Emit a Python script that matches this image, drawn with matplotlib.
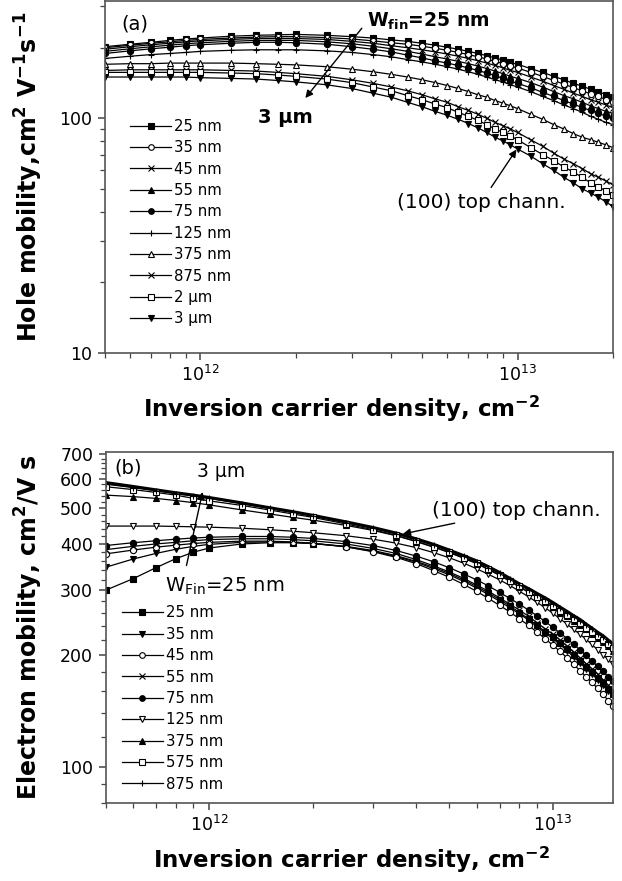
import matplotlib
matplotlib.use('Agg')
import matplotlib.pyplot as plt
from matplotlib.ticker import LogLocator, FixedLocator, NullFormatter, FixedFormatter

plt.rcParams['font.family'] = ['DejaVu Sans']
plt.rcParams['mathtext.default'] = 'regular'

# ---- panel (a): hole mobility vs inversion density ----
xa = [5e11, 6e11, 7e11, 8e11, 9e11, 1e12, 1.25e12, 1.5e12, 1.75e12, 2e12, 2.5e12, 3e12, 3.5e12,
      4e12, 4.5e12, 5e12, 5.5e12, 6e12, 6.5e12, 7e12, 7.5e12, 8e12, 8.5e12, 9e12, 9.5e12,
      1e13, 1.1e13, 1.2e13, 1.3e13, 1.4e13, 1.5e13, 1.6e13, 1.7e13, 1.8e13, 1.9e13, 2e13]
hole_25 = [202, 207, 211, 215, 218, 220, 224, 226, 227, 228, 226, 223, 220,
           216, 213, 209, 205, 201, 197, 193, 189, 185, 181, 177, 173, 170, 163, 157, 151, 146, 141, 137, 133, 130, 126, 123]
hole_35 = [200, 205, 209, 212, 215, 217, 220, 222, 223, 223, 221, 218, 214,
           210, 207, 203, 199, 195, 191, 187, 183, 179, 175, 171, 167, 164, 157, 151, 145, 140, 135, 131, 127, 124, 120, 117]
hole_45 = [197, 202, 206, 209, 212, 214, 217, 219, 219, 219, 217, 213, 209,
           204, 200, 196, 192, 188, 184, 180, 176, 172, 168, 164, 160, 157, 150, 144, 138, 133, 128, 124, 120, 117, 114, 111]
hole_55 = [193, 198, 202, 205, 208, 210, 213, 215, 215, 215, 212, 208, 203,
           198, 193, 188, 183, 179, 175, 171, 167, 163, 159, 155, 151, 148, 142, 136, 130, 125, 121, 117, 113, 110, 107, 105]
hole_75 = [189, 194, 198, 201, 204, 206, 209, 211, 211, 210, 207, 202, 197,
           192, 186, 181, 176, 172, 168, 164, 160, 156, 152, 148, 144, 141, 135, 129, 124, 119, 115, 111, 108, 105, 102, 100]
hole_125 = [180, 184, 187, 189, 191, 193, 195, 196, 196, 196, 194, 191, 187,
            183, 178, 174, 170, 166, 162, 158, 154, 150, 146, 143, 139, 136, 130, 124, 119, 114, 110, 106, 102, 99, 96, 94]
hole_375 = [170, 171, 171, 172, 172, 172, 172, 171, 170, 169, 166, 162, 158,
            154, 150, 146, 142, 138, 134, 130, 126, 123, 119, 116, 113, 110, 104, 99, 94, 90, 86, 83, 81, 79, 77, 75]
hole_875 = [160, 161, 161, 161, 161, 161, 160, 159, 157, 155, 151, 146, 141,
            136, 131, 126, 121, 117, 112, 108, 104, 100, 96, 93, 90, 87, 81, 76, 71, 67, 64, 61, 58, 56, 54, 52]
hole_2u = [157, 157, 157, 157, 157, 157, 156, 155, 153, 151, 147, 142, 136,
           131, 125, 120, 115, 111, 106, 102, 98, 94, 90, 87, 84, 81, 75, 70, 66, 62, 59, 56, 53, 51, 49, 47]
hole_3u = [150, 150, 150, 150, 150, 149, 148, 147, 145, 143, 139, 134, 128,
           123, 117, 112, 107, 103, 99, 95, 91, 87, 83, 80, 77, 74, 69, 64, 60, 56, 53, 50, 48, 46, 44, 42]

labels_a = ['25 nm', '35 nm', '45 nm', '55 nm', '75 nm', '125 nm', '375 nm', '875 nm', '2 µm', '3 µm']
series_a = [hole_25, hole_35, hole_45, hole_55, hole_75, hole_125, hole_375, hole_875, hole_2u, hole_3u]
markers_a = ['s', 'o', 'x', '^', 'o', '+', '^', 'x', 's', 'v']
filled_a = [True, False, True, True, True, True, False, True, False, True]

# ---- panel (b): electron mobility vs inversion density ----
xb = [5e11, 6e11, 7e11, 8e11, 9e11, 1e12, 1.25e12, 1.5e12, 1.75e12, 2e12, 2.5e12, 3e12, 3.5e12,
      4e12, 4.5e12, 5e12, 5.5e12, 6e12, 6.5e12, 7e12, 7.5e12, 8e12, 8.5e12, 9e12, 9.5e12, 1e13,
      1.05e13, 1.1e13, 1.15e13, 1.2e13, 1.25e13, 1.3e13, 1.35e13, 1.4e13, 1.45e13, 1.5e13]
elec_top = [586, 572, 560, 550, 542, 534, 516, 501, 489, 478, 459, 443, 428,
            413, 399, 385, 372, 360, 347, 335, 323, 312, 303, 294, 286, 278, 270, 263, 256, 250, 243, 237, 231, 226, 220, 215]
elec_25 = [300, 322, 345, 365, 380, 390, 400, 403, 403, 401, 394, 384, 372,
           359, 346, 333, 320, 307, 295, 283, 272, 261, 251, 241, 232, 224, 216, 208, 200, 193, 186, 180, 174, 168, 162, 157]
elec_35 = [346, 364, 377, 387, 394, 399, 404, 405, 404, 401, 393, 382, 370,
           357, 343, 330, 317, 304, 292, 280, 269, 259, 249, 239, 230, 222, 214, 206, 198, 191, 184, 178, 172, 166, 160, 155]
elec_45 = [376, 385, 392, 397, 401, 404, 407, 407, 405, 402, 393, 381, 368,
           354, 339, 325, 311, 298, 285, 273, 262, 251, 241, 231, 222, 213, 205, 197, 189, 182, 175, 169, 163, 157, 151, 146]
elec_55 = [386, 394, 400, 404, 408, 411, 413, 413, 411, 408, 400, 389, 377,
           363, 349, 336, 323, 310, 298, 286, 275, 265, 255, 245, 236, 228, 220, 212, 204, 197, 190, 184, 178, 172, 166, 161]
elec_75 = [396, 403, 408, 412, 415, 417, 419, 419, 417, 414, 406, 396, 384,
           371, 358, 345, 332, 320, 308, 296, 285, 275, 265, 256, 247, 238, 230, 222, 214, 207, 200, 193, 187, 181, 175, 170]
elec_125 = [447, 447, 447, 446, 445, 444, 441, 437, 433, 429, 421, 412, 402,
            391, 379, 367, 355, 343, 331, 320, 309, 298, 288, 278, 269, 260, 251, 243, 235, 228, 221, 214, 207, 201, 195, 189]
elec_375 = [542, 537, 531, 524, 517, 510, 494, 482, 472, 464, 449, 435, 421,
            406, 392, 379, 366, 354, 341, 329, 317, 306, 296, 287, 278, 270, 262, 255, 248, 242, 235, 229, 223, 218, 212, 206]
elec_575 = [571, 561, 551, 542, 531, 523, 508, 494, 482, 472, 453, 437, 422,
            407, 393, 380, 367, 355, 342, 330, 318, 307, 297, 288, 280, 272, 264, 257, 250, 244, 237, 231, 225, 220, 214, 209]
elec_875 = [580, 568, 557, 547, 539, 531, 514, 499, 487, 476, 457, 441, 426,
            411, 397, 383, 370, 358, 345, 333, 321, 310, 301, 292, 284, 276, 268, 261, 254, 248, 241, 235, 229, 224, 218, 213]

labels_b = ['25 nm', '35 nm', '45 nm', '55 nm', '75 nm', '125 nm', '375 nm', '575 nm', '875 nm']
series_b = [elec_25, elec_35, elec_45, elec_55, elec_75, elec_125, elec_375, elec_575, elec_875]
markers_b = ['s', 'v', 'o', 'x', 'o', 'v', '^', 's', '+']
filled_b = [True, True, False, True, True, False, True, False, True]

fig = plt.figure(figsize=(6.22, 8.81), dpi=100)
ax1 = fig.add_axes([0.1688, 0.5997, 0.8167, 0.3986])
ax2 = fig.add_axes([0.1699, 0.0889, 0.8161, 0.3984])

arrow = dict(arrowstyle='-|>', lw=1, color='black', mutation_scale=11)


def draw(ax, x, series, labels, markers, filled):
    for y, lab, m, f in zip(series, labels, markers, filled):
        ax.plot(x, y, color='black', lw=0.9, marker=m, ms=4.5,
                mfc='black' if f else 'white', mec='black', mew=0.8, label=lab)


def style(ax):
    ax.set_xscale('log')
    ax.set_yscale('log')
    for sp in ax.spines.values():
        sp.set_color('#555555')
        sp.set_linewidth(1.2)
    ax.tick_params(which='both', direction='out', top=False, right=False, color='#444444')
    ax.tick_params(which='major', length=5, width=1.1, labelsize=12.5, pad=4)
    ax.tick_params(which='minor', length=3.5, width=0.9)
    ax.xaxis.set_major_locator(LogLocator(base=10))
    ax.xaxis.set_minor_locator(LogLocator(base=10, subs=range(2, 10)))
    ax.xaxis.set_minor_formatter(NullFormatter())
    ax.set_xlabel('Inversion carrier density, cm$^{-2}$', fontsize=16.5, fontweight='bold', va='top')


def legend(ax, x0, y0):
    ax.legend(loc='upper left', bbox_to_anchor=(x0, y0), frameon=False, fontsize=10.7,
              handlelength=2.8, handletextpad=0.2, labelspacing=0.43, borderpad=0,
              borderaxespad=0, markerscale=0.9)


# panel (a)
draw(ax1, xa, series_a, labels_a, markers_a, filled_a)
style(ax1)
ax1.set_xlim(5e11, 2e13)
ax1.set_ylim(10, 315)
ax1.yaxis.set_major_locator(FixedLocator([10, 100]))
ax1.yaxis.set_major_formatter(FixedFormatter(['10', '100']))
ax1.yaxis.set_minor_locator(LogLocator(base=10, subs=range(2, 10)))
ax1.yaxis.set_minor_formatter(NullFormatter())
ax1.set_ylabel('Hole mobility,cm$^{2}$ V$^{-1}$s$^{-1}$', fontsize=17, fontweight='bold')
ax1.yaxis.set_label_coords(-0.118, 0.5)
ax1.xaxis.set_label_coords(0.465, -0.118)
legend(ax1, 0.049, 0.666)
ax1.text(0.0315, 0.936, '(a)', transform=ax1.transAxes, fontsize=14, va='center')
ax1.annotate('', xy=(0.391, 0.719), xytext=(0.509, 0.93), xycoords='axes fraction',
             arrowprops=arrow)
ax1.text(0.516, 0.927, 'W$_{fin}$=25 nm', transform=ax1.transAxes, fontsize=13.5,
         fontweight='bold', va='baseline')
ax1.text(0.356, 0.670, '3 µm', transform=ax1.transAxes, fontsize=14, fontweight='bold',
         ha='center', va='center')
ax1.annotate('(100) top chann.', xy=(0.813, 0.585), xytext=(0.575, 0.429),
             xycoords='axes fraction', fontsize=14.5, va='center', arrowprops=arrow)

# panel (b)
ax2.plot(xb, elec_top, color='black', lw=2.2)
draw(ax2, xb, series_b, labels_b, markers_b, filled_b)
style(ax2)
ax2.set_xlim(5e11, 1.5e13)
ax2.set_ylim(80, 710)
ax2.yaxis.set_major_locator(FixedLocator([100, 200, 300, 400, 500, 600, 700]))
ax2.yaxis.set_major_formatter(FixedFormatter(['100', '200', '300', '400', '500', '600', '700']))
ax2.yaxis.set_minor_locator(FixedLocator([80, 90, 120, 140, 160, 180, 220, 240, 260, 280,
                                          320, 340, 360, 380, 420, 440, 460, 480,
                                          520, 540, 560, 580, 620, 640, 660, 680]))
ax2.yaxis.set_minor_formatter(NullFormatter())
ax2.set_ylabel('Electron mobility, cm$^{2}$/V s', fontsize=17, fontweight='bold')
ax2.yaxis.set_label_coords(-0.12, 0.5)
ax2.xaxis.set_label_coords(0.485, -0.12)
legend(ax2, 0.0315, 0.562)
ax2.text(0.018, 0.953, '(b)', transform=ax2.transAxes, fontsize=14, va='center')
ax2.text(0.18, 0.944, '3 µm', transform=ax2.transAxes, fontsize=13.5, va='center')
ax2.annotate('', xy=(0.192, 0.893), xytext=(0.158, 0.668), xycoords='axes fraction',
             arrowprops=arrow)
ax2.text(0.117, 0.600, 'W$_{Fin}$=25 nm', transform=ax2.transAxes, fontsize=14, va='baseline')
ax2.annotate('(100) top chann.', xy=(0.58, 0.764), xytext=(0.643, 0.833),
             xycoords='axes fraction', fontsize=14.5, va='center', arrowprops=arrow)

fig.savefig('out.png', dpi=100)
